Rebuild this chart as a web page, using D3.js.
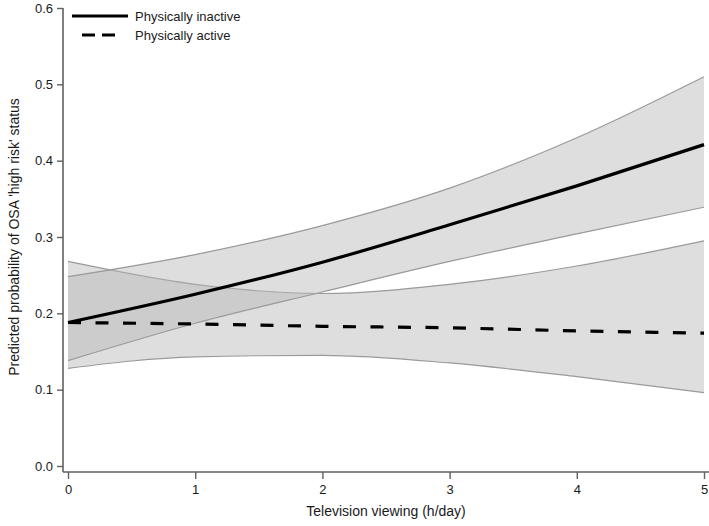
<!DOCTYPE html>
<html>
<head>
<meta charset="utf-8">
<script src="https://cdn.jsdelivr.net/npm/d3@7"></script>
<style>
  html, body { margin: 0; padding: 0; background: #fff; }
  svg { display: block; font-family: "Liberation Sans", Arial, sans-serif; }
</style>
</head>
<body>
<div id="chart"></div>
<script>
// hours of TV viewing per day
const hours = [0, 1, 2, 3, 4, 5];

// physically inactive: predicted probability + 95% CI
const inactiveFit   = [0.188, 0.225, 0.267, 0.316, 0.367, 0.421];
const inactiveUpper = [0.248, 0.277, 0.315, 0.364, 0.430, 0.510];
const inactiveLower = [0.138, 0.187, 0.228, 0.268, 0.304, 0.339];

// physically active
const activeFit   = [0.188, 0.186, 0.183, 0.181, 0.177, 0.174];
const activeUpper = [0.268, 0.238, 0.226, 0.238, 0.262, 0.295];
const activeLower = [0.128, 0.143, 0.145, 0.135, 0.117, 0.096];

const xTicks = [0, 1, 2, 3, 4, 5];
const yTicks = [0.0, 0.1, 0.2, 0.3, 0.4, 0.5, 0.6];

const width = 709, height = 526;

const svg = d3.select('#chart').append('svg')
    .attr('width', width)
    .attr('height', height);

const x = d3.scaleLinear().domain([0, 5]).range([68, 704]);
const y = d3.scaleLinear().domain([0, 0.6]).range([466, 8]);

const axisColor = '#606060';

// confidence bands
const band = (lo, hi) => d3.area()
    .x((d, i) => x(hours[i]))
    .y0((d, i) => y(lo[i]))
    .y1((d, i) => y(hi[i]))
    .curve(d3.curveMonotoneX)(hours);

const line = vals => d3.line()
    .x((d, i) => x(hours[i]))
    .y((d, i) => y(vals[i]))
    .curve(d3.curveMonotoneX)(hours);

[[activeLower, activeUpper], [inactiveLower, inactiveUpper]].forEach(([lo, hi]) => {
  svg.append('path')
      .attr('d', band(lo, hi))
      .attr('fill', '#b6b6b6')
      .attr('fill-opacity', 0.45)
      .attr('stroke', 'none');
  [lo, hi].forEach(v => {
    svg.append('path')
        .attr('d', line(v))
        .attr('fill', 'none')
        .attr('stroke', '#9a9a9a')
        .attr('stroke-width', 1.2);
  });
});

// fitted lines
svg.append('path')
    .attr('d', line(activeFit))
    .attr('fill', 'none')
    .attr('stroke', '#000')
    .attr('stroke-width', 3.2)
    .attr('stroke-dasharray', '13,14.5');

svg.append('path')
    .attr('d', line(inactiveFit))
    .attr('fill', 'none')
    .attr('stroke', '#000')
    .attr('stroke-width', 3.2);

// y axis
const yAxis = svg.append('g')
    .attr('transform', 'translate(63,0)')
    .call(d3.axisLeft(y).tickValues(yTicks).tickFormat(d3.format('.1f')).tickSize(6).tickPadding(4));
yAxis.select('.domain').attr('d', `M0,${y(0.6)}V472`);

// x axis
const xAxis = svg.append('g')
    .attr('transform', 'translate(0,472)')
    .call(d3.axisBottom(x).tickValues(xTicks).tickFormat(d3.format('d')).tickSize(7).tickPadding(6));
xAxis.select('.domain').attr('d', 'M63,0H709');

[yAxis, xAxis].forEach(g => {
  g.select('.domain').attr('stroke', axisColor).attr('stroke-width', 1.6);
  g.selectAll('.tick line').attr('stroke', axisColor).attr('stroke-width', 1.4);
  g.selectAll('.tick text')
      .attr('fill', '#1a1a1a')
      .style('font-size', '13px')
      .style('font-family', '"Liberation Sans", Arial, sans-serif');
});

// axis titles
svg.append('text')
    .attr('x', (x(0) + x(5)) / 2)
    .attr('y', 516)
    .attr('text-anchor', 'middle')
    .attr('fill', '#1a1a1a')
    .style('font-size', '14px')
    .text('Television viewing (h/day)');

svg.append('text')
    .attr('transform', `translate(19,${y(0.3)}) rotate(-90)`)
    .attr('text-anchor', 'middle')
    .attr('fill', '#1a1a1a')
    .style('font-size', '14px')
    .text("Predicted probability of OSA 'high risk' status");

// legend
const legendItems = [
  { label: 'Physically inactive', dash: null, y: 16 },
  { label: 'Physically active', dash: '13,8', y: 35 }
];
const legend = svg.append('g');
legendItems.forEach(d => {
  legend.append('line')
      .attr('x1', 72).attr('x2', 128)
      .attr('y1', d.y).attr('y2', d.y)
      .attr('stroke', '#000')
      .attr('stroke-width', 3.2)
      .attr('stroke-dasharray', d.dash ? '0,10,13,7,13,20' : null);
  legend.append('text')
      .attr('x', 135)
      .attr('y', d.y + 5)
      .attr('fill', '#1a1a1a')
      .style('font-size', '13px')
      .text(d.label);
});
</script>
</body>
</html>
